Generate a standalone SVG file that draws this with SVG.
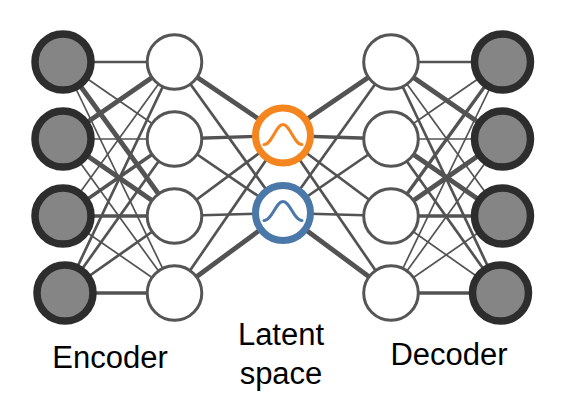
<svg xmlns="http://www.w3.org/2000/svg" width="564" height="414" viewBox="0 0 564 414">
<style>
.e{stroke:#535353;fill:none;stroke-linecap:butt}
.t1{stroke-width:1.7}
.t2{stroke-width:2.7}
.t3{stroke-width:3.4}
.t4{stroke-width:4.8}
.io{fill:#858585;stroke:#2d2d2d;stroke-width:7.5}
.hid{fill:#ffffff;stroke:#555555;stroke-width:3}
.lat{fill:#ffffff;stroke-width:7}
.curve{fill:none;stroke-width:3;stroke-linecap:round}
.lbl{font-family:"Liberation Sans",Arial,Helvetica,sans-serif;font-size:31px;fill:#000000;text-anchor:middle}
</style>
<rect width="564" height="414" fill="#ffffff"/>
<g id="connectors">
<line class="e t2" x1="63" y1="62" x2="174.5" y2="62"/>
<line class="e t1" x1="63" y1="62" x2="174.5" y2="139"/>
<line class="e t4" x1="63" y1="62" x2="174.5" y2="216"/>
<line class="e t1" x1="63" y1="62" x2="174.5" y2="293"/>
<line class="e t4" x1="63" y1="139" x2="174.5" y2="62"/>
<line class="e t1" x1="63" y1="139" x2="174.5" y2="139"/>
<line class="e t4" x1="63" y1="139" x2="174.5" y2="216"/>
<line class="e t1" x1="63" y1="139" x2="174.5" y2="293"/>
<line class="e t1" x1="63" y1="216" x2="174.5" y2="62"/>
<line class="e t3" x1="63" y1="216" x2="174.5" y2="139"/>
<line class="e t3" x1="63" y1="216" x2="174.5" y2="216"/>
<line class="e t1" x1="63" y1="216" x2="174.5" y2="293"/>
<line class="e t2" x1="65" y1="293" x2="174.5" y2="62"/>
<line class="e t2" x1="65" y1="293" x2="174.5" y2="139"/>
<line class="e t2" x1="65" y1="293" x2="174.5" y2="216"/>
<line class="e t3" x1="65" y1="293" x2="174.5" y2="293"/>
<line class="e t4" x1="174.5" y1="62" x2="283" y2="135.5"/>
<line class="e t2" x1="174.5" y1="62" x2="283" y2="213"/>
<line class="e t3" x1="174.5" y1="139" x2="283" y2="135.5"/>
<line class="e t2" x1="174.5" y1="139" x2="283" y2="213"/>
<line class="e t2" x1="174.5" y1="216" x2="283" y2="135.5"/>
<line class="e t2" x1="174.5" y1="216" x2="283" y2="213"/>
<line class="e t2" x1="174.5" y1="293" x2="283" y2="135.5"/>
<line class="e t4" x1="174.5" y1="293" x2="283" y2="213"/>
<line class="e t4" x1="283" y1="135.5" x2="391" y2="62"/>
<line class="e t3" x1="283" y1="135.5" x2="391" y2="139"/>
<line class="e t2" x1="283" y1="135.5" x2="391" y2="216"/>
<line class="e t2" x1="283" y1="135.5" x2="391" y2="293"/>
<line class="e t2" x1="283" y1="213" x2="391" y2="62"/>
<line class="e t2" x1="283" y1="213" x2="391" y2="139"/>
<line class="e t2" x1="283" y1="213" x2="391" y2="216"/>
<line class="e t4" x1="283" y1="213" x2="391" y2="293"/>
<line class="e t2" x1="391" y1="62" x2="502.5" y2="62"/>
<line class="e t4" x1="391" y1="62" x2="502.5" y2="139"/>
<line class="e t1" x1="391" y1="62" x2="502.5" y2="216"/>
<line class="e t2" x1="391" y1="62" x2="500.5" y2="293"/>
<line class="e t1" x1="391" y1="139" x2="502.5" y2="62"/>
<line class="e t1" x1="391" y1="139" x2="502.5" y2="139"/>
<line class="e t4" x1="391" y1="139" x2="502.5" y2="216"/>
<line class="e t2" x1="391" y1="139" x2="500.5" y2="293"/>
<line class="e t3" x1="391" y1="216" x2="502.5" y2="62"/>
<line class="e t4" x1="391" y1="216" x2="502.5" y2="139"/>
<line class="e t3" x1="391" y1="216" x2="502.5" y2="216"/>
<line class="e t1" x1="391" y1="216" x2="500.5" y2="293"/>
<line class="e t1" x1="391" y1="293" x2="502.5" y2="62"/>
<line class="e t1" x1="391" y1="293" x2="502.5" y2="139"/>
<line class="e t1" x1="391" y1="293" x2="502.5" y2="216"/>
<line class="e t3" x1="391" y1="293" x2="500.5" y2="293"/>
</g>
<g id="in1"><circle class="io" cx="63" cy="62" r="28"/></g>
<g id="in2"><circle class="io" cx="63" cy="139" r="28"/></g>
<g id="in3"><circle class="io" cx="63" cy="216" r="28"/></g>
<g id="in4"><circle class="io" cx="65" cy="293" r="28"/></g>
<g id="enc1"><circle class="hid" cx="174.5" cy="62" r="27.3"/></g>
<g id="enc2"><circle class="hid" cx="174.5" cy="139" r="27.3"/></g>
<g id="enc3"><circle class="hid" cx="174.5" cy="216" r="27.3"/></g>
<g id="enc4"><circle class="hid" cx="174.5" cy="293" r="27.3"/></g>
<g id="latent-orange">
<circle class="lat" cx="283" cy="135.5" r="27.5" stroke="#f5861f"/>
<path class="curve" stroke="#f5861f" d="M264 144.5 C272 144.5 276 124.5 283 124.5 C290 124.5 294 144.5 302 144.5"/>
</g>
<g id="latent-blue">
<circle class="lat" cx="283" cy="213" r="27.5" stroke="#4a78a8"/>
<path class="curve" stroke="#4a78a8" d="M264 220.5 C272 220.5 276 201.5 283 201.5 C290 201.5 294 220.5 302 220.5"/>
</g>
<g id="dec1"><circle class="hid" cx="391" cy="62" r="27.3"/></g>
<g id="dec2"><circle class="hid" cx="391" cy="139" r="27.3"/></g>
<g id="dec3"><circle class="hid" cx="391" cy="216" r="27.3"/></g>
<g id="dec4"><circle class="hid" cx="391" cy="293" r="27.3"/></g>
<g id="out1"><circle class="io" cx="502.5" cy="62" r="28"/></g>
<g id="out2"><circle class="io" cx="502.5" cy="139" r="28"/></g>
<g id="out3"><circle class="io" cx="502.5" cy="216" r="28"/></g>
<g id="out4"><circle class="io" cx="500.5" cy="293" r="28"/></g>
<g id="labels">
<text class="lbl" x="110" y="368">Encoder</text>
<text class="lbl" x="281" y="345">Latent</text>
<text class="lbl" x="281" y="384">space</text>
<text class="lbl" x="449" y="365">Decoder</text>
</g>
</svg>
